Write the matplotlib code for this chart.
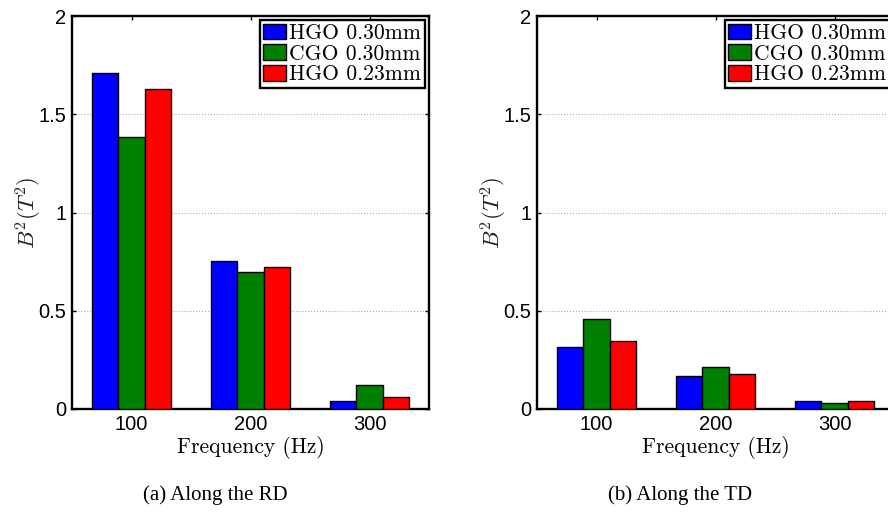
import numpy as np
import matplotlib
matplotlib.use('Agg')
import matplotlib.pyplot as plt

plt.rcParams['mathtext.fontset'] = 'cm'

# data
freqs = ['100', '200', '300']
series = ['HGO 0.30mm', 'CGO 0.30mm', 'HGO 0.23mm']
colors = ['#0000ff', '#008000', '#ff0000']

rd_hgo30 = [1.711, 0.753, 0.039]
rd_cgo30 = [1.383, 0.696, 0.122]
rd_hgo23 = [1.627, 0.721, 0.059]

td_hgo30 = [0.314, 0.168, 0.039]
td_cgo30 = [0.458, 0.212, 0.029]
td_hgo23 = [0.346, 0.180, 0.039]

captions = ['(a) Along the RD', '(b) Along the TD']

fig = plt.figure(figsize=(8.88, 5.13), dpi=100)
ax1 = fig.add_axes([72/888, 104/513, 357/888, 393/513])
ax2 = fig.add_axes([537/888, 104/513, 357/888, 393/513])

x = np.arange(1, len(freqs) + 1)
w = 0.22

def draw_panel(ax, vals, caption, cx):
    for i, (v, c, lab) in enumerate(zip(vals, colors, series)):
        ax.bar(x + (i - 1) * w, v, width=w, color=c, edgecolor='black',
               linewidth=1.0, label=lab, zorder=3)
    ax.set_xlim(0.5, 3.5)
    ax.set_ylim(0, 2)
    ax.set_xticks(x)
    ax.set_xticklabels(freqs, fontfamily='Liberation Sans', fontsize=14.5)
    ax.set_yticks([0, 0.5, 1, 1.5, 2])
    ax.set_yticklabels(['0', '0.5', '1', '1.5', '2'], fontfamily='Liberation Sans', fontsize=14.5)
    ax.tick_params(direction='in', length=3, width=1, top=True, right=True, pad=4)
    for s in ax.spines.values():
        s.set_linewidth(1.7)
    ax.yaxis.grid(True, linestyle=':', color='#aaaaaa', linewidth=0.8, zorder=0)
    ax.set_axisbelow(True)
    ax.set_xlabel('Frequency (Hz)', fontfamily='cmr10', fontsize=15.5)
    ax.xaxis.set_label_coords(0.5, -0.112)
    ax.xaxis.label.set_va('baseline')
    ax.set_ylabel(r'$B^2(T^2)$', fontsize=16.5, color='#222222')
    ax.yaxis.label.set_va('center')
    ax.yaxis.set_label_coords(-0.12, 0.5)
    leg = ax.legend(loc='upper right', prop={'family': 'cmr10', 'size': 15.6},
                    fancybox=False, framealpha=1, edgecolor='black',
                    borderpad=0.15, labelspacing=0.05, handlelength=1.05,
                    handleheight=0.75, handletextpad=0.15, borderaxespad=0.2)
    leg.get_frame().set_linewidth(1.7)
    for p in leg.get_patches():
        p.set_linewidth(1.0)
    fig.text(cx, 13/513, caption, ha='center', va='baseline',
             fontfamily='Liberation Serif', fontsize=15)

draw_panel(ax1, [rd_hgo30, rd_cgo30, rd_hgo23], captions[0], 215/888)
draw_panel(ax2, [td_hgo30, td_cgo30, td_hgo23], captions[1], 680/888)

fig.savefig('out.png', dpi=100)
